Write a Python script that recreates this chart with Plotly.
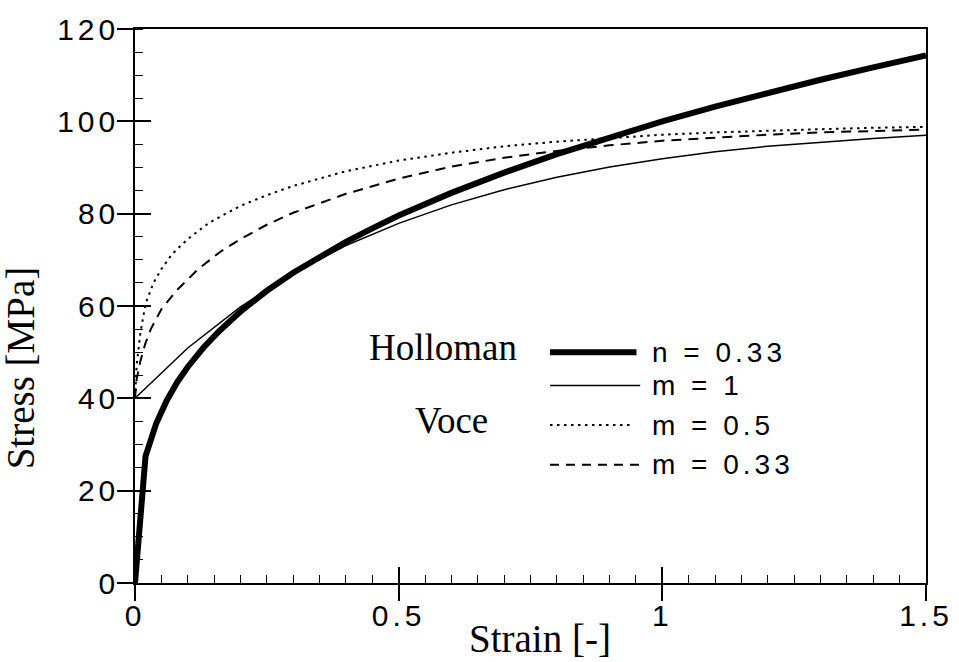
import plotly.graph_objects as go

# ---------------- data ----------------
holloman_strain = [0, 0.02, 0.04, 0.06, 0.08, 0.1, 0.13, 0.16, 0.2, 0.25, 0.3, 0.35,
                   0.4, 0.45, 0.5, 0.6, 0.7, 0.8, 0.9, 1.0, 1.1, 1.2, 1.3, 1.4, 1.5]
holloman_stress = [0, 27.5, 34.5, 39.5, 43.5, 46.8, 51.0, 54.6, 58.8, 63.3, 67.2, 70.7,
                   73.9, 76.8, 79.6, 84.5, 88.9, 92.9, 96.6, 100.0, 103.2, 106.2, 109.0, 111.7, 114.3]

voce_m1_strain = [0, 0.1, 0.2, 0.3, 0.4, 0.5, 0.6, 0.7, 0.8, 0.9, 1.0, 1.1, 1.2, 1.3, 1.4, 1.5]
voce_m1_stress = [40, 50.9, 59.8, 67.1, 73.1, 77.9, 81.9, 85.2, 87.9, 90.1, 91.9, 93.4,
                  94.6, 95.5, 96.3, 97.0]

voce_m05_strain = [0, 0.003, 0.01, 0.02, 0.035, 0.05, 0.07, 0.1, 0.14, 0.2, 0.25, 0.3,
                   0.4, 0.5, 0.6, 0.7, 0.8, 0.9, 1.0, 1.1, 1.2, 1.3, 1.4, 1.5]
voce_m05_stress = [40, 47, 54, 60.5, 65, 68, 71.2, 74.5, 78, 81.7, 84, 86,
                   89.2, 91.5, 93.2, 94.6, 95.6, 96.4, 97.1, 97.6, 98.0, 98.3, 98.6, 98.8]

voce_m033_strain = [0, 0.003, 0.01, 0.02, 0.03, 0.05, 0.08, 0.12, 0.16, 0.2, 0.25, 0.3,
                    0.4, 0.5, 0.6, 0.7, 0.8, 0.9, 1.0, 1.1, 1.2, 1.3, 1.4, 1.5]
voce_m033_stress = [40, 44, 48, 52, 55, 59.3, 63.5, 68, 71.6, 74.5, 77.6, 80.2,
                    84.3, 87.6, 90.2, 92.1, 93.6, 94.8, 95.8, 96.5, 97.1, 97.6, 97.9, 98.2]

x_tick_vals = [0, 0.5, 1, 1.5]
x_tick_labels = ["0", "0.5", "1", "1.5"]
y_tick_vals = [0, 20, 40, 60, 80, 100, 120]
y_tick_labels = ["0", "20", "40", "60", "80", "100", "120"]

legend_labels = ["n = 0.33", "m = 1", "m = 0.5", "m = 0.33"]

SANS = "Liberation Sans"
SERIF = "Liberation Serif"
BLACK = "black"

fig = go.Figure()

fig.add_trace(go.Scatter(x=voce_m1_strain, y=voce_m1_stress, mode="lines",
                         line=dict(color=BLACK, width=1.5), hoverinfo="skip"))
fig.add_trace(go.Scatter(x=voce_m05_strain, y=voce_m05_stress, mode="lines",
                         line=dict(color=BLACK, width=2, dash="2.5px,4.5px"), hoverinfo="skip"))
fig.add_trace(go.Scatter(x=voce_m033_strain, y=voce_m033_stress, mode="lines",
                         line=dict(color=BLACK, width=2, dash="10px,7px"), hoverinfo="skip"))
fig.add_trace(go.Scatter(x=holloman_strain, y=holloman_stress, mode="lines",
                         line=dict(color=BLACK, width=6), hoverinfo="skip"))

axis_common = dict(showgrid=False, zeroline=False, color=BLACK)

fig.update_layout(
    width=959, height=662,
    margin=dict(l=135, r=29, t=24, b=79),
    paper_bgcolor="white", plot_bgcolor="white",
    showlegend=False,
    xaxis=dict(
        range=[0, 1.5], showline=True, linecolor=BLACK, linewidth=1.5, mirror=True,
        ticks="outside", ticklen=16, tickwidth=1.5, tickcolor=BLACK,
        tickvals=x_tick_vals, ticktext=x_tick_labels,
        ticklabelstandoff=-11,
        tickfont=dict(family=SANS, size=30, color=BLACK),
        minor=dict(ticks="inside", ticklen=8, tickwidth=1.2, tickcolor=BLACK,
                   dtick=0.05, tick0=0, showgrid=False),
        **axis_common,
    ),
    yaxis=dict(
        range=[0, 120], showline=True, linecolor=BLACK, linewidth=1.5, mirror=True,
        ticks="outside", ticklen=16, tickwidth=1.5, tickcolor=BLACK,
        tickvals=y_tick_vals, ticktext=y_tick_labels,
        ticklabelstandoff=-8,
        tickfont=dict(family=SANS, size=30, color=BLACK),
        minor=dict(ticks="inside", ticklen=8, tickwidth=1.2, tickcolor=BLACK,
                   dtick=5, tick0=0, showgrid=False),
        **axis_common,
    ),
    xaxis2=dict(
        overlaying="x", anchor="y", side="bottom", range=[0, 1.5],
        ticks="inside", ticklen=16, tickwidth=1.5, tickcolor=BLACK,
        tickvals=x_tick_vals, showticklabels=False, showline=False,
        **axis_common,
    ),
    yaxis2=dict(
        overlaying="y", anchor="x", side="left", range=[0, 120],
        ticks="inside", ticklen=16, tickwidth=1.5, tickcolor=BLACK,
        tickvals=y_tick_vals, showticklabels=False, showline=False,
        **axis_common,
    ),
)

# invisible trace so the overlay axes are drawn
fig.add_trace(go.Scatter(x=[0], y=[0], xaxis="x2", yaxis="y2", mode="markers",
                         marker=dict(opacity=0), hoverinfo="skip", showlegend=False))

# ---------------- legend (drawn by hand, as in the figure) ----------------
legend_styles = [
    dict(width=6, dash="solid"),
    dict(width=1.5, dash="solid"),
    dict(width=2, dash="2.5px,4.5px"),
    dict(width=2, dash="9px,7px"),
]
legend_rows_y = [50.0, 42.8, 34.2, 25.6]
legend_x_end = [0.951, 0.958, 0.943, 0.962]
for lab, st, yy, xe in zip(legend_labels, legend_styles, legend_rows_y, legend_x_end):
    fig.add_shape(type="line", xref="x", yref="y", x0=0.787, x1=xe, y0=yy, y1=yy,
                  line=dict(color=BLACK, width=st["width"], dash=st["dash"]))
    fig.add_annotation(x=0.977, y=yy, xref="x", yref="y", text=lab,
                       showarrow=False, xanchor="left", yanchor="middle",
                       font=dict(family=SANS, size=28, color=BLACK))

fig.add_annotation(x=0.585, y=51.0, xref="x", yref="y", text="Holloman", showarrow=False,
                   xanchor="center", yanchor="middle",
                   font=dict(family=SERIF, size=37, color=BLACK))
fig.add_annotation(x=0.6, y=35.2, xref="x", yref="y", text="Voce", showarrow=False,
                   xanchor="center", yanchor="middle",
                   font=dict(family=SERIF, size=37, color=BLACK))

# axis titles
fig.add_annotation(x=0.512, y=-0.1, xref="paper", yref="paper", text="Strain [-]",
                   showarrow=False, xanchor="center", yanchor="middle",
                   font=dict(family=SERIF, size=39, color=BLACK))
fig.add_annotation(x=-0.145, y=0.388, xref="paper", yref="paper", text="Stress [MPa]",
                   showarrow=False, xanchor="center", yanchor="middle", textangle=-90,
                   font=dict(family=SERIF, size=39, color=BLACK))

# the original artwork uses widely tracked sans-serif labels: add letter spacing
post_js = """
var gd = document.getElementById('{plot_id}');
function track() {
  gd.querySelectorAll('.xtick text, .ytick text').forEach(function (t) {
    t.style.letterSpacing = '4px';
  });
  gd.querySelectorAll('.annotation-text').forEach(function (t) {
    var ff = (t.style.fontFamily || '');
    if (ff.indexOf('Liberation Sans') < 0) { return; }
    var bb = t.getBBox();
    t.setAttribute('text-anchor', 'start');
    t.style.textAnchor = 'start';
    t.setAttribute('x', bb.x);
    t.style.letterSpacing = '4px';
  });
}
setTimeout(track, 30);
"""

fig.write_html("out.html", post_script=post_js)
